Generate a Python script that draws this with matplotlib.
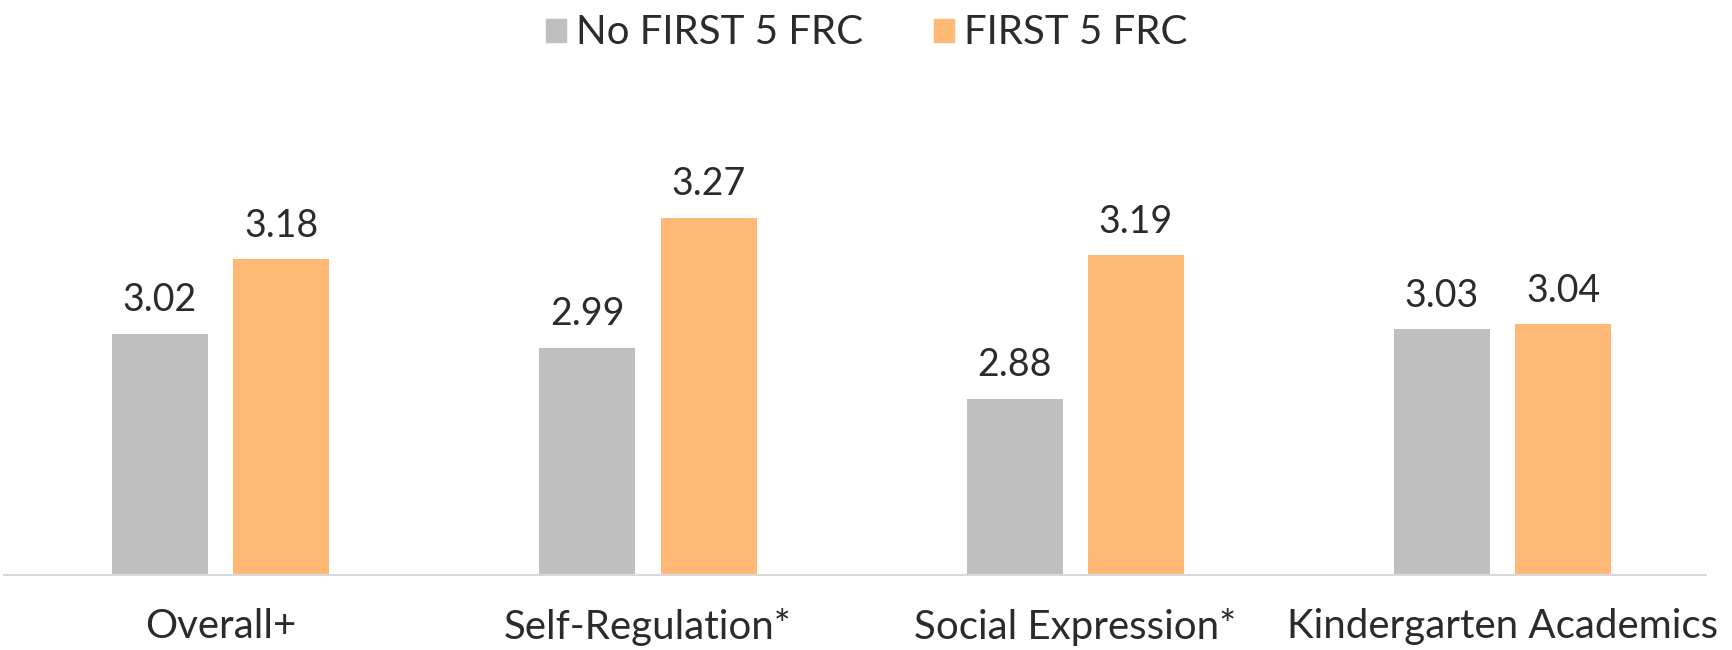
import numpy as np
import matplotlib.pyplot as plt
from matplotlib.patches import Patch

plt.rcParams['font.family'] = ['Lato', 'DejaVu Sans']

# data
categories = ['Overall+', 'Self-Regulation*', 'Social Expression*', 'Kindergarten Academics']
no_frc = [3.02, 2.99, 2.88, 3.03]
frc = [3.18, 3.27, 3.19, 3.04]
series_names = ['No FIRST 5 FRC', 'FIRST 5 FRC']

gray = '#BFBFBF'
orange = '#FFB977'
text_col = '#2B2B2B'

fig = plt.figure(figsize=(17.33, 6.5), dpi=100)
ax = fig.add_axes([4 / 1733, 75 / 650, 1702 / 1733, 464 / 650])

x = np.arange(len(categories))
w = 0.225
off = 0.142
ax.bar(x - off, np.array(no_frc) - 2.5, w, bottom=2.5, color=gray)
ax.bar(x + off, np.array(frc) - 2.5, w, bottom=2.5, color=orange)

# value labels
for xi, v in zip(x - off, no_frc):
    ax.text(xi, v + 0.033, '{:.2f}'.format(v), ha='center', va='bottom', fontsize=27, color=text_col)
for xi, v in zip(x + off, frc):
    ax.text(xi, v + 0.033, '{:.2f}'.format(v), ha='center', va='bottom', fontsize=27, color=text_col)

ax.set_xlim(-0.507, 3.476)
ax.set_ylim(2.5, 3.5)
ax.set_xticks(x)
ax.set_xticklabels(categories, fontsize=29, color=text_col)
ax.tick_params(axis='x', length=0, pad=24)
ax.set_yticks([])
for s in ['top', 'right', 'left']:
    ax.spines[s].set_visible(False)
ax.spines['bottom'].set_color('#D9D9D9')
ax.spines['bottom'].set_linewidth(1.5)

handles = [Patch(color=gray), Patch(color=orange)]
fig.legend(handles, series_names, loc='center', bbox_to_anchor=(0.5, 1 - 33 / 650), ncol=2,
           frameon=False, fontsize=29, handlelength=0.5, handleheight=0.5,
           handletextpad=0.25, columnspacing=1.75, labelcolor=text_col)

fig.savefig('out.png', dpi=100)
